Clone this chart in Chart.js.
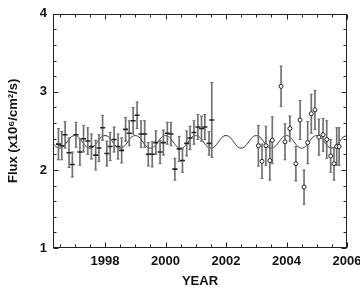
<!DOCTYPE html>
<html><head><meta charset="utf-8">
<script src="https://cdn.jsdelivr.net/npm/chart.js@4"></script>
<style>html,body{margin:0;padding:0;background:#fff}</style>
</head><body>
<canvas id="c" width="360" height="289"></canvas>
<script>
// ---- data ----
const years1 = [1996.46,1996.57,1996.68,1996.81,1996.92,1997.04,1997.17,1997.29,1997.43,1997.55,1997.69,1997.80,1997.92,1998.06,1998.17,1998.30,1998.43,1998.55,1998.68,1998.80,1998.93,1999.06,1999.19,1999.31,1999.43,1999.56,1999.68,1999.82,1999.93,2000.06,2000.18,2000.31,2000.45,2000.56,2000.70,2000.81,2000.94,2001.07,2001.19,2001.30,2001.44,2001.53];
const flux1  = [2.33,2.31,2.45,2.22,2.07,2.45,2.23,2.40,2.37,2.30,2.19,2.28,2.54,2.21,2.30,2.39,2.30,2.25,2.52,2.47,2.63,2.70,2.46,2.46,2.20,2.20,2.35,2.23,2.35,2.47,2.46,2.01,2.27,2.12,2.34,2.41,2.48,2.55,2.53,2.55,2.34,2.64];
const err1   = [0.20,0.18,0.17,0.19,0.16,0.16,0.17,0.17,0.17,0.16,0.19,0.17,0.16,0.16,0.18,0.16,0.16,0.16,0.15,0.16,0.17,0.17,0.17,0.17,0.15,0.16,0.15,0.15,0.16,0.14,0.15,0.14,0.16,0.15,0.16,0.15,0.15,0.16,0.16,0.16,0.15,0.48];

const years2 = [2003.07,2003.19,2003.32,2003.45,2003.53,2003.82,2003.95,2004.11,2004.31,2004.45,2004.58,2004.70,2004.82,2004.94,2005.07,2005.21,2005.33,2005.46,2005.57,2005.66,2005.74];
const flux2  = [2.31,2.11,2.31,2.12,2.38,3.07,2.36,2.53,2.08,2.64,1.78,2.35,2.72,2.77,2.42,2.45,2.39,2.18,2.08,2.30,2.30];
const err2   = [0.26,0.22,0.25,0.25,0.30,0.26,0.23,0.16,0.22,0.25,0.22,0.27,0.25,0.25,0.23,0.21,0.24,0.21,0.21,0.24,0.24];

const curveYears = [1996.25,1996.375,1996.5,1996.625,1996.75,1996.875,1997,
 1997.125,1997.25,1997.375,1997.5,1997.625,1997.75,1997.875,1998,
 1998.125,1998.25,1998.375,1998.5,1998.625,1998.75,1998.875,1999,
 1999.125,1999.25,1999.375,1999.5,1999.625,1999.75,1999.875,2000,
 2000.125,2000.25,2000.375,2000.5,2000.625,2000.75,2000.875,2001,
 2001.125,2001.25,2001.375,2001.5,2001.625,2001.75,2001.875,2002,
 2002.125,2002.25,2002.375,2002.5,2002.625,2002.75,2002.875,2003,
 2003.125,2003.25,2003.375,2003.5,2003.625,2003.75,2003.875,2004,
 2004.125,2004.25,2004.375,2004.5,2004.625,2004.75,2004.875,2005,
 2005.125,2005.25,2005.375,2005.5,2005.625,2005.75,2005.875,2006];
const curveFlux = [2.36,2.30,2.28,2.30,2.36,2.42,2.44,
 2.42,2.36,2.30,2.28,2.30,2.36,2.42,2.44,
 2.42,2.36,2.30,2.28,2.30,2.36,2.42,2.44,
 2.42,2.36,2.30,2.28,2.30,2.36,2.42,2.44,
 2.42,2.36,2.30,2.28,2.30,2.36,2.42,2.44,
 2.42,2.36,2.30,2.28,2.30,2.36,2.42,2.44,
 2.42,2.36,2.30,2.28,2.30,2.36,2.42,2.44,
 2.42,2.36,2.30,2.28,2.30,2.36,2.42,2.44,
 2.42,2.36,2.30,2.28,2.30,2.36,2.42,2.44,
 2.42,2.36,2.30,2.28,2.30,2.36,2.42,2.44];

const xTickLabels = [1998, 2000, 2002, 2004, 2006];
const yTickLabels = [1, 2, 3, 4];

// ---- build datasets ----
const allYears = years1.concat(years2);
const allFlux = flux1.concat(flux2);
const allErr = err1.concat(err2);
const barData = allYears.map((x,i)=>({x:x, y:[allFlux[i]-allErr[i], allFlux[i]+allErr[i]]}));
const capData = [];
allYears.forEach((x,i)=>{ capData.push({x:x,y:allFlux[i]-allErr[i]}); capData.push({x:x,y:allFlux[i]+allErr[i]}); });
const pts1 = years1.map((x,i)=>({x:x,y:flux1[i]}));
const pts2 = years2.map((x,i)=>({x:x,y:flux2[i]}));
const curve = curveYears.map((x,i)=>({x:x,y:curveFlux[i]}));

const FONT = {family:"'Liberation Sans', Arial, Helvetica, sans-serif", size:13, weight:'bold'};

const frameTicks = {
  id:'frameTicks',
  afterDatasetsDraw(chart){
    const {ctx, chartArea:a, scales:{x,y}} = chart;
    ctx.save();
    ctx.strokeStyle = '#222';
    ctx.lineWidth = 1;
    const L = Math.round(a.left)+0.5, R = Math.round(a.right)-0.5, T = Math.round(a.top)+0.5, B = Math.round(a.bottom)-0.5;
    ctx.strokeRect(L, T, R-L, B-T);
    ctx.beginPath();
    for (let v = Math.ceil(x.min*2)/2; v <= x.max+1e-6; v += 0.5) {
      const px = Math.round(x.getPixelForValue(v))+0.5;
      const len = xTickLabels.includes(Math.round(v*100)/100) ? 5 : 3;
      ctx.moveTo(px, B); ctx.lineTo(px, B-len);
      ctx.moveTo(px, T); ctx.lineTo(px, T+len);
    }
    for (let k = 0; k <= 15; k++) {
      const v = 1 + k*0.2;
      const py = Math.round(y.getPixelForValue(v))+0.5;
      const len = (k % 5 === 0) ? 5 : 3;
      ctx.moveTo(L, py); ctx.lineTo(L+len, py);
      ctx.moveTo(R, py); ctx.lineTo(R-len, py);
    }
    ctx.stroke();
    ctx.restore();
  }
};

new Chart(document.getElementById('c'), {
  type: 'scatter',
  data: {
    datasets: [
      {type:'line', data:curve, borderColor:'#333', borderWidth:1, pointRadius:0, tension:0.4, fill:false, order:5},
      {type:'bar', data:barData, backgroundColor:'#707070', borderWidth:0, barThickness:1, grouped:false, order:4},
      {type:'scatter', data:capData, pointStyle:'line', pointRadius:1.5, borderColor:'#707070', borderWidth:1, order:3},
      {type:'scatter', data:pts1, pointStyle:'line', pointRadius:2.5, borderColor:'#222', borderWidth:1.6, order:2},
      {type:'scatter', data:pts2, pointStyle:'circle', pointRadius:2, backgroundColor:'#fff', borderColor:'#222', borderWidth:1, order:1}
    ]
  },
  options: {
    responsive:false,
    animation:false,
    events:[],
    layout:{padding:{left:0, top:12, right:13, bottom:0}},
    plugins:{legend:{display:false}, tooltip:{enabled:false}},
    scales:{
      x:{
        type:'linear', min:1996.28, max:2006, offset:false,
        grid:{display:false, drawTicks:false, offset:false},
        border:{display:false},
        ticks:{font:FONT, color:'#111', padding:6, maxRotation:0, callback:(v)=>String(v)},
        afterBuildTicks:(s)=>{ s.ticks = xTickLabels.map(v=>({value:v})); },
        afterFit:(s)=>{ s.height = 41; s.paddingLeft = 0; s.paddingRight = 0; },
        title:{display:true, text:'YEAR', font:FONT, color:'#111', padding:{top:0,bottom:0}}
      },
      y:{
        type:'linear', min:1, max:4,
        grid:{display:false, drawTicks:false},
        border:{display:false},
        ticks:{font:FONT, color:'#111', padding:6},
        afterBuildTicks:(s)=>{ s.ticks = yTickLabels.map(v=>({value:v})); },
        afterFit:(s)=>{ s.width = 53; },
        title:{display:true, text:'Flux (x10\u2076/cm\u00b2/s)', font:FONT, color:'#111', padding:{top:6,bottom:0}}
      }
    }
  },
  plugins:[frameTicks]
});
</script>
</body></html>
